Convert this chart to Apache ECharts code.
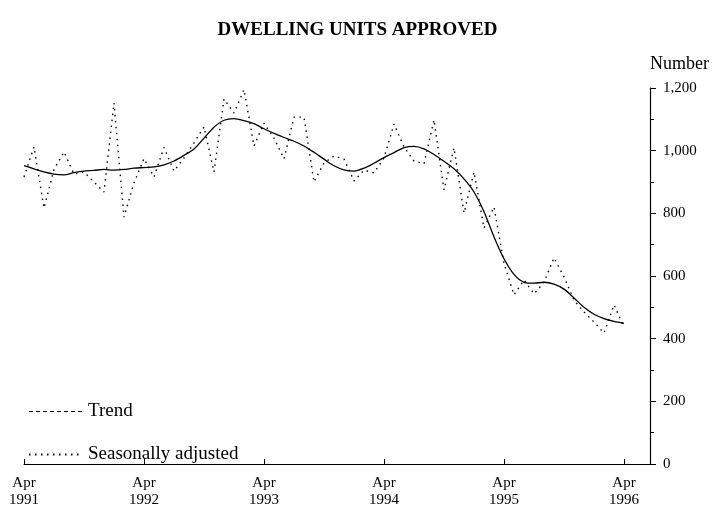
<!DOCTYPE html>
<html>
<head>
<meta charset="utf-8">
<title>Dwelling units approved</title>
<script src="https://cdn.jsdelivr.net/npm/echarts@6/dist/echarts.min.js"></script>
<style>
    html, body { margin: 0; padding: 0; background: #fff; }
    #chart { width: 715px; height: 521px; }
</style>
</head>
<body>
<div id="chart"></div>
<script>
/*monthly data, Apr 1991 .. Apr 1996*/
const startYear = 1991;
const tickYears = [1991, 1992, 1993, 1994, 1995, 1996];
const yTicks = [0, 200, 400, 600, 800, 1000, 1200];

const trend = [
    952, 942, 932, 925, 923, 930, 935, 937, 940, 938, 940, 944,
    946, 948, 955, 967, 985, 1005, 1040, 1075, 1097, 1102, 1096, 1086,
    1070, 1055, 1042, 1030, 1015, 995, 973, 952, 939, 935, 944, 960,
    978, 994, 1010, 1014, 1006, 988, 966, 942, 910, 868, 805, 725,
    655, 605, 580, 577, 580, 574, 558, 530, 500, 478, 464, 455,
    449
];

const seasonallyAdjusted = [
    916, 1012, 817, 940, 996, 925, 932, 900, 868, 1152, 788, 897,
    975, 916, 1010, 935, 977, 1025, 1076, 932, 1165, 1120, 1195, 1015,
    1088, 1040, 974, 1107, 1107, 900, 961, 983, 973, 903, 938, 929,
    977, 1085, 1012, 967, 958, 1098, 875, 1009, 801, 932, 753, 820,
    640, 540, 587, 543, 580, 658, 597, 523, 485, 453, 418, 508,
    437
];

(function () {
    const el = document.getElementById('chart');
    const chart = echarts.init(el);
    const font = 'Liberation Serif';

    function toPairs(values) {
        return values.map(function (v, i) {
            return [i, v];
        });
    }

    const option = {
        animation: false,
        backgroundColor: '#fff',
        title: {
            text: 'DWELLING UNITS APPROVED',
            left: 'center',
            top: 16,
            textStyle: {
                fontFamily: font,
                fontWeight: 'bold',
                fontSize: 19,
                color: '#000'
            }
        },
        legend: {
            orient: 'vertical',
            left: 23,
            top: 397,
            itemWidth: 54,
            itemHeight: 14,
            itemGap: 24,
            itemStyle: { opacity: 0 },
            textStyle: { fontFamily: font, fontSize: 19, color: '#000' },
            data: [
                { name: 'Trend', lineStyle: { type: [4, 3], width: 1 } },
                { name: 'Seasonally adjusted' }
            ]
        },
        grid: {
            left: 24,
            right: 65,
            top: 88,
            bottom: 57
        },
        xAxis: {
            type: 'value',
            min: 0,
            max: 62.6,
            interval: 12,
            splitLine: { show: false },
            axisLine: { show: true, onZero: false, lineStyle: { color: '#000', width: 1 } },
            axisTick: { show: true, inside: true, length: 5, lineStyle: { color: '#000' } },
            axisLabel: {
                margin: 11,
                fontFamily: font,
                fontSize: 15,
                lineHeight: 17,
                color: '#000',
                formatter: function (v) {
                    if (v % 12 !== 0) return '';
                    const year = startYear + v / 12;
                    return tickYears.indexOf(year) > -1 ? 'Apr\n' + year : '';
                }
            }
        },
        yAxis: {
            type: 'value',
            position: 'right',
            min: yTicks[0],
            max: yTicks[yTicks.length - 1],
            interval: 200,
            name: 'Number',
            nameLocation: 'end',
            nameGap: 15,
            nameTextStyle: {
                fontFamily: font,
                fontSize: 18,
                color: '#000',
                align: 'left',
                padding: [0, 0, 0, 0]
            },
            splitLine: { show: false },
            axisLine: { show: true, onZero: false, lineStyle: { color: '#000', width: 1.2 } },
            axisTick: { show: true, inside: false, length: 6, lineStyle: { color: '#000' } },
            minorTick: { show: true, splitNumber: 2, length: 4, lineStyle: { color: '#000' } },
            axisLabel: {
                margin: 13,
                fontFamily: font,
                fontSize: 15,
                color: '#000',
                formatter: function (v) {
                    return v.toLocaleString('en-US');
                }
            }
        },
        series: [
            {
                name: 'Trend',
                type: 'line',
                symbol: 'none',
                smooth: 0.3,
                lineStyle: { color: '#000', width: 1.3 },
                itemStyle: { color: '#000' },
                data: toPairs(trend)
            },
            {
                name: 'Seasonally adjusted',
                type: 'line',
                symbol: 'none',
                lineStyle: { color: '#000', width: 1.4, type: [1.5, 4.5] },
                itemStyle: { color: '#000' },
                data: toPairs(seasonallyAdjusted)
            }
        ]
    };

    chart.setOption(option);

    window.addEventListener('resize', chart.resize.bind(chart));
})();
</script>
</body>
</html>
